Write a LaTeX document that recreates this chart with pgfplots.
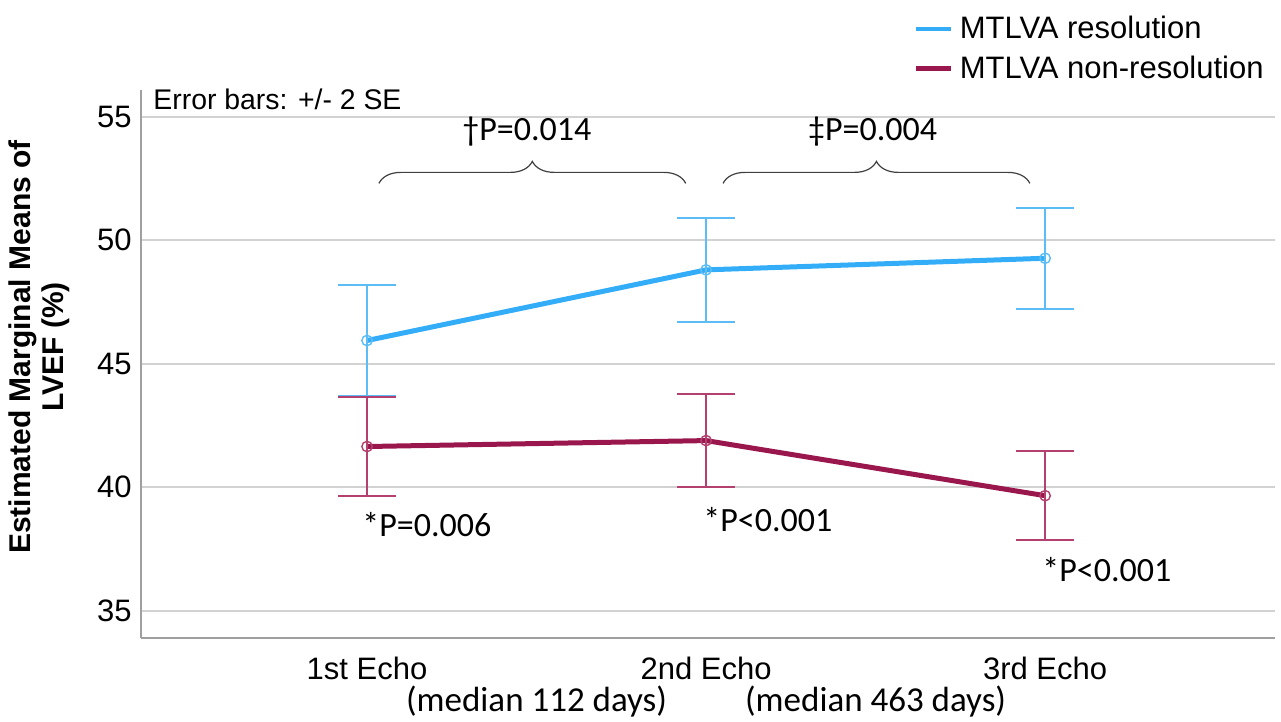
\documentclass[border=0pt]{standalone}
\usepackage{pgfplots}
\pgfplotsset{compat=1.18}
\usepackage{fontspec}
\setmainfont{Liberation Sans}
\newfontfamily\calibri{Carlito}
\usetikzlibrary{decorations.pathreplacing}
\definecolor{resblue}{HTML}{34ADF8}
\definecolor{resbluelt}{HTML}{5CBDF6}
\definecolor{nonred}{HTML}{9A174D}
\definecolor{nonredlt}{HTML}{B3406F}

% means and +/- 2 SE
\pgfplotstableread{
x y e
1 45.94 2.26
2 48.80 2.10
3 49.27 2.05
}\resolution
\pgfplotstableread{
x y e
1 41.65 2.02
2 41.89 1.87
3 39.66 1.80
}\nonresolution

\begin{document}
\begin{tikzpicture}
\useasboundingbox (-70.5pt,-42pt) rectangle (570pt,319pt);
\begin{axis}[
  scale only axis, width=567pt, height=274pt,
  xmin=0.3333, xmax=3.678, ymin=33.9, ymax=56.08,
  clip=false,
  axis lines=left,
  axis line style={-, draw=gray!75, line width=1pt},
  xtick={1,2,3}, xticklabels={1st Echo,2nd Echo,3rd Echo},
  ytick={35,40,...,55},
  major tick length=0pt,
  ymajorgrids, grid style={gray!35, line width=0.9pt},
  tick label style={font=\fontsize{15.5}{18}\selectfont},
  /pgf/number format/assume math mode=true,
  yticklabel style={inner sep=0pt, xshift=-4.5pt},
  xticklabel style={inner sep=0pt, anchor=north, yshift=-9.5pt},
  every axis y label/.style={at={(axis description cs:-0.09,0.531)}, rotate=90, anchor=center},
  ylabel={Estimated Marginal Means of\\LVEF (\%)},
  ylabel style={align=center, font=\bfseries\fontsize{15}{16.5}\selectfont},
  legend style={at={(axis description cs:0.6814,1.139)}, anchor=north west,
    draw=none, fill=none, inner sep=0pt, row sep=5pt,
    font=\fontsize{15.5}{18}\selectfont, nodes={inner sep=1pt}},
  legend cell align=left,
  legend image code/.code={\draw[#1, line width=2.2pt] (0pt,0pt) -- (17.5pt,0pt);
    \path (19.5pt,0pt);},
]
\addplot[resblue, line width=2.5pt, mark=o, mark size=2.6pt,
  mark options={line width=0.7pt, solid, draw=resbluelt},
  error bars/.cd, y dir=both, y explicit,
  error bar style={line width=1pt, resbluelt},
  error mark options={rotate=90, mark size=14.5pt, line width=1pt, resbluelt}]
  table[x=x, y=y, y error=e] {\resolution};
\addplot[nonred, line width=2.5pt, mark=o, mark size=2.6pt,
  mark options={line width=0.7pt, solid, draw=nonredlt},
  error bars/.cd, y dir=both, y explicit,
  error bar style={line width=1pt, nonredlt},
  error mark options={rotate=90, mark size=14.5pt, line width=1pt, nonredlt}]
  table[x=x, y=y, y error=e] {\nonresolution};
\legend{MTLVA resolution, MTLVA non-resolution}

\node[anchor=base west, inner sep=0pt, font=\fontsize{14.2}{16}\selectfont]
  at (rel axis cs:0,1) [xshift=6pt, yshift=-10pt] {Error bars: +/- 2 SE};

\draw[decorate, decoration={brace, amplitude=11pt}, line width=0.6pt, black!75]
  (axis cs:1.035,52.3) -- (axis cs:1.94,52.3);
\draw[decorate, decoration={brace, amplitude=11pt}, line width=0.6pt, black!75]
  (axis cs:2.05,52.3) -- (axis cs:2.955,52.3);
\node[anchor=base west, inner sep=0pt, font=\calibri\fontsize{17}{20}\selectfont]
  at (axis cs:1.28,54.03) {†P=0.014};
\node[anchor=base west, inner sep=0pt, font=\calibri\fontsize{17}{20}\selectfont]
  at (axis cs:2.30,54.03) {‡P=0.004};

\node[anchor=base west, inner sep=0pt, font=\calibri\fontsize{17}{20}\selectfont]
  at (axis cs:0.985,38.01) {*P=0.006};
\node[anchor=base west, inner sep=0pt, font=\calibri\fontsize{17}{20}\selectfont]
  at (axis cs:1.991,38.23) {*P<0.001};
\node[anchor=base west, inner sep=0pt, font=\calibri\fontsize{17}{20}\selectfont]
  at (axis cs:2.991,36.18) {*P<0.001};

\node[anchor=base, inner sep=0pt, font=\calibri\fontsize{17.5}{20}\selectfont]
  at (axis cs:1.5,33.9) [yshift=-37pt] {(median 112 days)};
\node[anchor=base, inner sep=0pt, font=\calibri\fontsize{17.5}{20}\selectfont]
  at (axis cs:2.5,33.9) [yshift=-37pt] {(median 463 days)};
\end{axis}
\end{tikzpicture}
\end{document}
